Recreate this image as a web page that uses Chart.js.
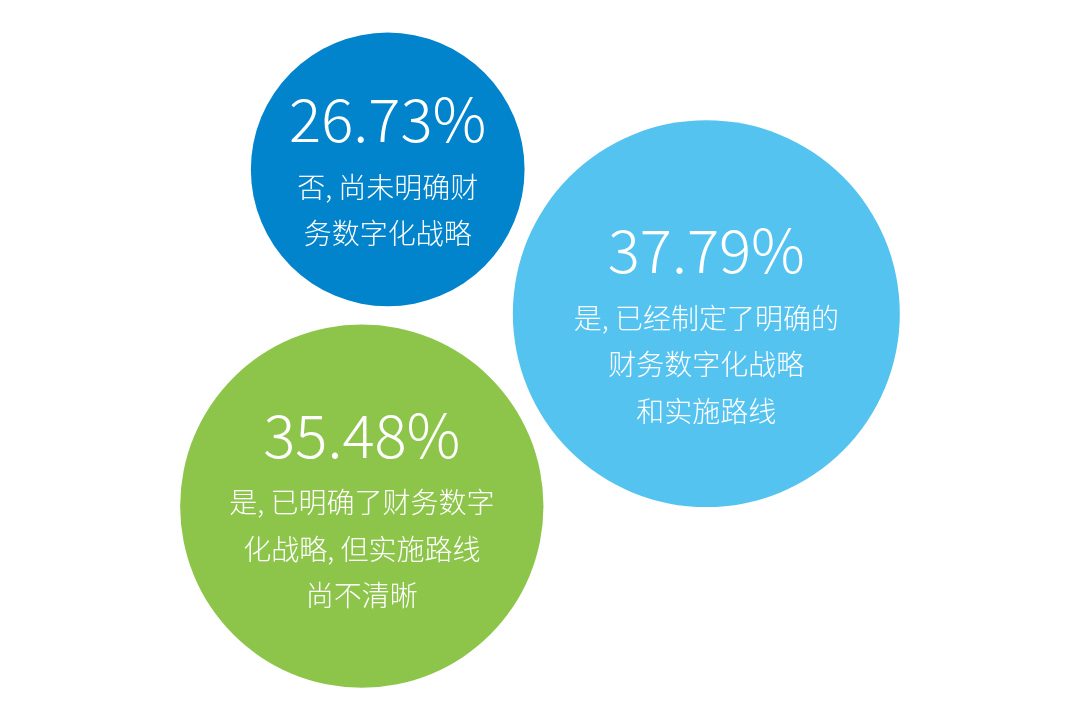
<!DOCTYPE html>
<html>
<head>
<meta charset="utf-8">
<script src="https://cdn.jsdelivr.net/npm/chart.js@4/dist/chart.umd.min.js"></script>
<style>
  html, body { margin: 0; padding: 0; background: #ffffff; }
  #wrap { width: 1080px; height: 721px; }
</style>
</head>
<body>
<div id="wrap"><canvas id="bubbles" width="1080" height="721"></canvas></div>
<script>
// answers and their share (%)
const categories = [
    ['否，尚未明确财', '务数字化战略'],
    ['是，已经制定了明确的', '财务数字化战略', '和实施路线'],
    ['是，已明确了财务数字', '化战略，但实施路线', '尚不清晰']
];
const shares = [26.73, 37.79, 35.48];
const shareLabels = ['26.73%', '37.79%', '35.48%'];
// bubble placement on a 0-100 grid
const bubbleX = [35.9, 65.4, 33.5];
const bubbleY = [76.5, 56.5, 29.8];

const colors = ['#0284cc', '#55c3f0', '#8dc54b'];
const pxPerPercent = 5.12;
const textDy = [-27.5, -40.5, -48.5];

// the comma is a narrow one followed by a small gap in the picture
const fixComma = s => s.replace(/，/g, ', ');

const bubbleText = {
    id: 'bubbleText',
    afterDatasetsDraw(chart) {
        const c = chart.ctx;
        const meta = chart.getDatasetMeta(0);
        c.save();
        c.fillStyle = '#ffffff';
        c.textAlign = 'center';
        meta.data.forEach((pt, i) => {
            const base = pt.y + textDy[i];
            c.textBaseline = 'alphabetic';
            c.font = '300 60px "Noto Sans CJK SC", "Open Sans", sans-serif';
            c.fillText(shareLabels[i], pt.x, base);
            c.textBaseline = 'middle';
            c.font = '300 28px "Noto Sans CJK SC", sans-serif';
            categories[i].forEach((line, k) => {
                c.fillText(fixComma(line), pt.x, base + 45 + k * 46.5);
            });
        });
        c.restore();
    }
};

const ctx = document.getElementById('bubbles').getContext('2d');
new Chart(ctx, {
    type: 'bubble',
    data: {
        datasets: [{
            data: shares.map((v, i) => ({ x: bubbleX[i], y: bubbleY[i], r: v * pxPerPercent })),
            backgroundColor: colors,
            borderWidth: 0,
            hoverRadius: 0
        }]
    },
    options: {
        responsive: false,
        animation: false,
        events: [],
        layout: { padding: 0, autoPadding: false },
        clip: false,
        scales: {
            x: { display: false, min: 0, max: 100 },
            y: { display: false, min: 0, max: 100 }
        },
        plugins: { legend: { display: false }, tooltip: { enabled: false } }
    },
    plugins: [bubbleText]
});
</script>
</body>
</html>
